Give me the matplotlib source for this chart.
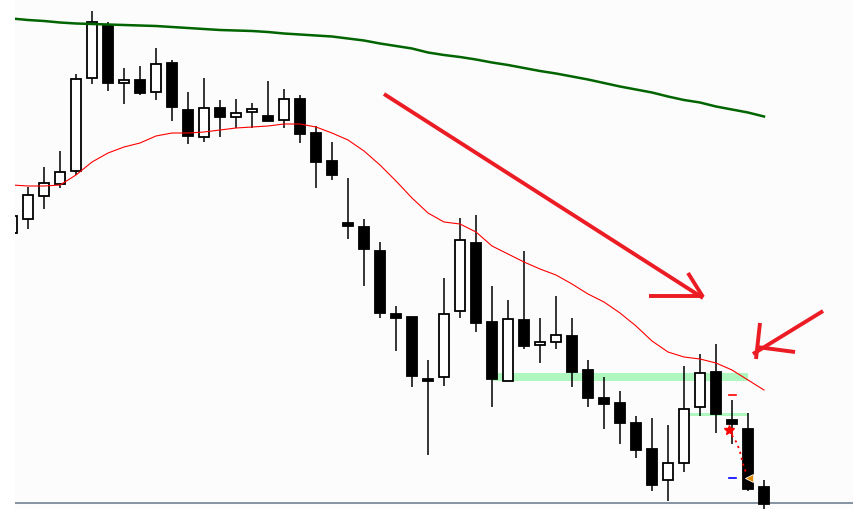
import matplotlib
matplotlib.use("Agg")
import matplotlib.pyplot as plt
from matplotlib.patches import Rectangle

# candle data (open, high, low, close), one per bar
opens = [1.2270, 1.2284, 1.2307, 1.2319, 1.2332, 1.2425, 1.2478, 1.2420,
         1.2423, 1.2411, 1.2440, 1.2393, 1.2366, 1.2395, 1.2386, 1.2391,
         1.2387, 1.2383, 1.2404, 1.2370, 1.2342, 1.2280, 1.2276, 1.2252,
         1.2189, 1.2186, 1.2124, 1.2126, 1.2192, 1.2260, 1.2181, 1.2122,
         1.2183, 1.2158, 1.2161, 1.2167, 1.2133, 1.2105, 1.2100, 1.2080,
         1.2054, 1.2023, 1.2040, 1.2096, 1.2131, 1.2083, 1.2074, 1.2016]
highs = [1.2293, 1.2316, 1.2336, 1.2352, 1.2429, 1.2492, 1.2481, 1.2435,
         1.2437, 1.2455, 1.2443, 1.2411, 1.2425, 1.2403, 1.2404, 1.2400,
         1.2422, 1.2414, 1.2408, 1.2377, 1.2361, 1.2325, 1.2284, 1.2261,
         1.2197, 1.2186, 1.2143, 1.2225, 1.2285, 1.2288, 1.2217, 1.2203,
         1.2252, 1.2185, 1.2207, 1.2185, 1.2143, 1.2126, 1.2112, 1.2087,
         1.2085, 1.2078, 1.2137, 1.2149, 1.2159, 1.2103, 1.2090, 1.2023]
lows = [1.2265, 1.2274, 1.2294, 1.2315, 1.2328, 1.2419, 1.2412, 1.2399,
        1.2408, 1.2403, 1.2382, 1.2359, 1.2361, 1.2366, 1.2375, 1.2375,
        1.2382, 1.2375, 1.2360, 1.2315, 1.2323, 1.2264, 1.2217, 1.2185,
        1.2152, 1.2116, 1.2048, 1.2117, 1.2185, 1.2171, 1.2096, 1.2122,
        1.2154, 1.2140, 1.2154, 1.2116, 1.2096, 1.2074, 1.2059, 1.2045,
        1.2012, 1.2002, 1.2031, 1.2087, 1.2070, 1.2059, 1.2012, 1.1994]
closes = [1.2287, 1.2308, 1.2320, 1.2331, 1.2424, 1.2481, 1.2420, 1.2423,
          1.2410, 1.2439, 1.2396, 1.2367, 1.2395, 1.2386, 1.2390, 1.2394,
          1.2382, 1.2404, 1.2369, 1.2341, 1.2328, 1.2277, 1.2254, 1.2190,
          1.2185, 1.2127, 1.2122, 1.2189, 1.2263, 1.2180, 1.2124, 1.2184,
          1.2157, 1.2161, 1.2168, 1.2131, 1.2105, 1.2099, 1.2080, 1.2053,
          1.2018, 1.2040, 1.2094, 1.2130, 1.2089, 1.2079, 1.2014, 1.1999]

# moving averages
ma_fast = [1.2318, 1.2317, 1.2317, 1.2318, 1.2328, 1.2341, 1.2350, 1.2356,
           1.2360, 1.2367, 1.2370, 1.2370, 1.2371, 1.2373, 1.2375, 1.2376,
           1.2377, 1.2379, 1.2379, 1.2376, 1.2370, 1.2363, 1.2352, 1.2338,
           1.2322, 1.2305, 1.2290, 1.2281, 1.2279, 1.2271, 1.2257, 1.2249,
           1.2241, 1.2234, 1.2228, 1.2219, 1.2209, 1.2201, 1.2190, 1.2177,
           1.2162, 1.2151, 1.2146, 1.2144, 1.2140, 1.2133, 1.2123, 1.2113]
ma_slow = [1.24845, 1.2483, 1.2482, 1.24805, 1.24795, 1.2479, 1.24785, 1.2478,
           1.24775, 1.2477, 1.2476, 1.2475, 1.2474, 1.2473, 1.24725, 1.2472,
           1.2471, 1.24695, 1.24685, 1.24675, 1.24665, 1.24645, 1.24625, 1.24595,
           1.2457, 1.24545, 1.24505, 1.2448, 1.2446, 1.24435, 1.24405, 1.2438,
           1.2435, 1.2432, 1.24295, 1.24265, 1.24235, 1.2420, 1.24165, 1.24135,
           1.24105, 1.24065, 1.2403, 1.24005, 1.23965, 1.23935, 1.23905, 1.23865]

# highlighted zones: (x_start, x_end, price_low, price_high)
zones = [(30.06, 46.0, 1.2122, 1.2130), (42.4, 46.0, 1.2087, 1.2090)]

# hand drawn arrow strokes: ((x0, y0), (x1, y1))
strokes = [
    ((23.25, 1.2409), (43.19, 1.2205)),
    ((39.81, 1.2207), (43.19, 1.2207)),
    ((42.25, 1.2230), (43.19, 1.2206)),
    ((50.69, 1.2192), (46.31, 1.2149)),
    ((46.75, 1.2180), (46.50, 1.2144)),
    ((46.56, 1.2156), (48.94, 1.2151)),
]

# small trade marks near the last bars
path_x = [44.81, 45.06, 45.31, 45.44, 45.56, 45.63, 45.75, 45.88]
path_y = [1.2073, 1.2066, 1.2060, 1.2054, 1.2048, 1.2042, 1.2036, 1.2030]


def main():
    fig = plt.figure(figsize=(8.61, 5.09), dpi=100)
    fig.patch.set_facecolor("white")
    ax = fig.add_axes([15 / 861, 0, 838 / 861, 1])
    ax.set_facecolor("#fcfcfc")
    for s in ax.spines.values():
        s.set_visible(False)
    ax.set_xticks([])
    ax.set_yticks([])
    ax.set_xlim(0.1875, 52.5625)
    ax.set_ylim(1.1994, 1.2503)

    ax.axhline(1.2000, color="#7b8b9b", lw=1.3, zorder=1)

    for x0, x1, y0, y1 in zones:
        ax.add_patch(Rectangle((x0, y0), x1 - x0, y1 - y0,
                               facecolor="#aef7be", edgecolor="none", zorder=2))

    w = 0.6
    for i, (o, h, l, c) in enumerate(zip(opens, highs, lows, closes)):
        ax.vlines(i, l, h, color="black", lw=1.1, zorder=3)
        bottom = min(o, c)
        height = max(abs(c - o), 0.00025)
        face = "white" if c > o else "black"
        ax.add_patch(Rectangle((i - w / 2, bottom), w, height,
                               facecolor=face, edgecolor="black",
                               lw=1.3, zorder=4))

    xs = list(range(len(closes)))
    ax.plot(xs, ma_slow, color="#006400", lw=1.8, zorder=5)
    ax.plot(xs, ma_fast, color="#ff0000", lw=0.8, zorder=5)

    for (x0, y0), (x1, y1) in strokes:
        ax.plot([x0, x1], [y0, y1], color="#ec1c24", lw=2.8,
                solid_capstyle="butt", zorder=6)

    ax.plot([44.8, 45.25], [1.2108, 1.2108], color="red", lw=1.2, zorder=6)
    ax.plot([44.8, 45.25], [1.2025, 1.2025], color="#0000ff", lw=1.2, zorder=6)
    ax.plot(path_x, path_y, color="red", lw=1.3, ls=(0, (1.2, 2.2)), zorder=6)
    ax.plot(44.81, 1.2073, marker="*", color="red", ms=7, zorder=7)
    ax.plot(46.05, 1.2025, marker="<", color="#e08a00", ms=6,
            markeredgecolor="white", markeredgewidth=0.6, zorder=7)

    fig.savefig("out.png", dpi=100, facecolor="white")


if __name__ == "__main__":
    main()
